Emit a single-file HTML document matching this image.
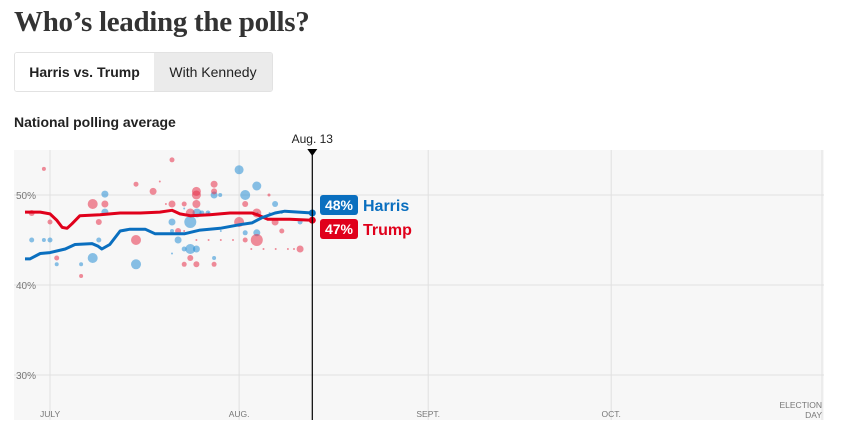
<!DOCTYPE html>
<html><head><meta charset="utf-8"><style>
body{margin:0;background:#fff;width:850px;height:441px;overflow:hidden;font-family:"Liberation Sans",sans-serif;position:relative}
h1{position:absolute;left:14px;top:6px;margin:0;font-family:"Liberation Serif",serif;font-weight:bold;font-size:29px;color:#333;letter-spacing:-0.3px}
.tabs{position:absolute;left:14px;top:52px;display:flex;border:1px solid #e2e2e2;border-radius:3px;overflow:hidden;height:38px;width:257px}
.tab{font-size:14px;line-height:38px;color:#222;white-space:nowrap;text-align:center;box-sizing:border-box}
.tab.on{font-weight:bold;background:#fff;width:139px}
.tab.off{background:#ebebeb;width:118px}
.sub{position:absolute;left:14px;top:114px;font-weight:bold;font-size:14px;color:#222}
</style></head><body>
<h1>Who’s leading the polls?</h1>
<div class="tabs">
<div class="tab on">Harris vs. Trump</div>
<div class="tab off">With Kennedy</div>
</div>
<div class="sub">National polling average</div>
<svg id="chart" width="850" height="441" style="position:absolute;left:0;top:0"></svg>
<script>
const yTicks=[50,40,30];
const yTickLabels=["50%","40%","30%"];
const monthDays=[0,31,62,92,127];
const monthLabels=["JULY","AUG.","SEPT.","OCT.","ELECTION|DAY"];
const trumpDays=[-4.1,-1.6,0,1.1,2,2.8,3.6,4.9,8.2,11.5,14.8,18,20,21.3,23,26.2,29.5,33.1,34,35.7,39.3,43];
const trumpVals=[48.1,48.1,47.9,47.2,46.4,46.3,46.8,47.7,47.8,48,48,48.1,48.3,47.9,47.7,47.8,48,48,47.8,47.3,47.3,47.2];
const harrisDays=[-4.1,-3.3,-1.6,0,2.5,4.1,6.9,7.9,8.5,9.8,11.5,13.1,15.6,17.2,22.1,24.6,27.9,31.1,33.1,34.8,36.9,38.5,43];
const harrisVals=[42.9,42.9,43.5,43.6,44,44.5,44.6,44.3,44,44.5,46,46.2,46.2,45.7,45.7,46.1,46.3,46.7,46.9,47.5,48,48.2,48];
const harrisDotDays=[-3,-1,0,1.1,5.1,7,8,9,9,14.1,14.1,20,20,21,22,23,24,23,24.1,24.9,25.9,26.9,26.9,27.9,32,31,33.9,33.9,32,36.9,41,20,22,24,26,28,30,32,34,36,38];
const harrisDotVals=[45,45,45,42.3,42.3,43,45,50.1,48.1,42.3,48,47,46,45,44,44,44,47,48,48,48,50,43,50,50,52.8,51,45.8,45.8,49,47,43.5,48.5,46,48,46,48,48,48,48,48];
const harrisDotSizes=[2.5,2,2.5,2,2,5,2.5,3.5,3.5,5,1.5,3.5,2,3.5,2.5,5,3.5,6,4.5,2.5,2.5,3.5,2,2,5,4.5,4.5,3.5,2.5,3,2.5,1,1,1,1,1,1,1,1,1,1];
const trumpDotDays=[-3,-1,0,1.1,5.1,7,9,8,14.1,14.1,16.9,20,20,22,24,24,24,26.9,26.9,23,21,22,23,24,26.9,31,32,32,33.9,33.9,36.9,38,41,35.9,18,19,22,24,26,28,30,33,35,37,39,40];
const trumpDotVals=[48,52.9,47,43,41,49,49,47,51.2,45,50.4,53.9,49,49,50.4,50,49,51.2,50.4,48,46,42.3,43,42.3,42.3,47,49,45,45,48,47,46,44,50,51.5,49,46,45,45,45,45,44,44,44,44,44];
const trumpDotSizes=[3,2,2.5,2.5,2,5,3.5,3,2.5,5,3.5,2.5,3.5,2.5,4.5,4.5,4,3.5,3,4.5,3,2.5,3,3,2.5,5,3,2.5,6,4.5,3.5,2.5,3.5,1.5,1,1,1,1,1,1,1,1,1,1,1,1];
const svg=document.getElementById('chart');
const NS='http://www.w3.org/2000/svg';
const X0=14,X1=824,Y0=150,Y1=420;
const x=d=>50+d*6.1;
const y=v=>195+(50-v)*9;
function el(t,a){const e=document.createElementNS(NS,t);for(const k in a)e.setAttribute(k,a[k]);svg.appendChild(e);return e;}
const bg=el('rect',{x:X0,y:Y0,width:X1-X0,height:Y1-Y0,fill:'#f7f7f7'});


yTicks.forEach((t,i)=>{
 const l=el('line',{x1:X0,x2:X1,y1:y(t),y2:y(t),stroke:'#e0e0e0','stroke-width':1});
 
 
 const tx=el('text',{x:16,y:y(t)+4,'font-size':10,fill:'#777','font-family':'Liberation Sans'});
 tx.textContent=yTickLabels[i];
 
 
});
monthDays.forEach((d,i)=>{
 const gx=Math.min(x(d),822);
 const l=el('line',{x1:gx,x2:gx,y1:Y0,y2:Y1,stroke:'#e0e0e0','stroke-width':1});
 
 
 const parts=monthLabels[i].split('|');
 parts.forEach((p,j)=>{
  const last=i==monthDays.length-1;
  const tx=el('text',{x:last?gx:x(d)-(i==0?10:0),y:parts.length>1?408+j*10:417,'font-size':8.5,fill:'#777','text-anchor':last?'end':(i==0?'start':'middle'),'font-family':'Liberation Sans'});
  tx.textContent=p;
  
  
 });
});
function dots(ds,vs,ss,col,name){ds.forEach((d,i)=>{
 const c=el('circle',{cx:x(d),cy:y(vs[i]),r:ss[i],fill:col,'fill-opacity':0.55});
 
 
});}
dots(harrisDotDays,harrisDotVals,harrisDotSizes,'#2a8fd6','harris-poll-dot');
dots(trumpDotDays,trumpDotVals,trumpDotSizes,'#e8324a','trump-poll-dot');
function line(ds,vs,col,name){
 const p=el('path',{d:ds.map((d,i)=>(i?'L':'M')+x(d)+','+y(vs[i])).join(''),fill:'none',stroke:col,'stroke-width':3,'stroke-linejoin':'round'});
 
 
 const c=el('circle',{cx:x(ds[ds.length-1]),cy:y(vs[vs.length-1]),r:3.5,fill:col});
 
 
}
line(trumpDays,trumpVals,'#e0001b','trump-average-line');
line(harrisDays,harrisVals,'#0a6fbf','harris-average-line');
const mx=x(43);
const ml=el('line',{x1:mx,x2:mx,y1:150,y2:Y1,stroke:'#000','stroke-width':1.2});


const tri=el('path',{d:`M${mx-5},149L${mx+5},149L${mx},156Z`,fill:'#000'});


const ml2=el('text',{x:mx,y:143,'font-size':12,'text-anchor':'middle',fill:'#222','font-family':'Liberation Sans'});
ml2.textContent='Aug. 13';


function label(yy,col,pct,name,key){
 const r=el('rect',{x:320,y:yy-10,width:38,height:20,rx:3,fill:col});
 
 
 const t=el('text',{x:339,y:yy+5,'font-size':14,'font-weight':'bold','text-anchor':'middle',fill:'#fff','font-family':'Liberation Sans'});
 t.textContent=pct;
 
 
 const n=el('text',{x:363,y:yy+6,'font-size':16,'font-weight':'bold',fill:col,'font-family':'Liberation Sans'});
 n.textContent=name;
 
 
}
label(205,'#0a6fbf',Math.round(harrisVals[harrisVals.length-1])+'%','Harris','harris');
label(229,'#e0001b',Math.round(trumpVals[trumpVals.length-1])+'%','Trump','trump');
</script>
</body></html>
